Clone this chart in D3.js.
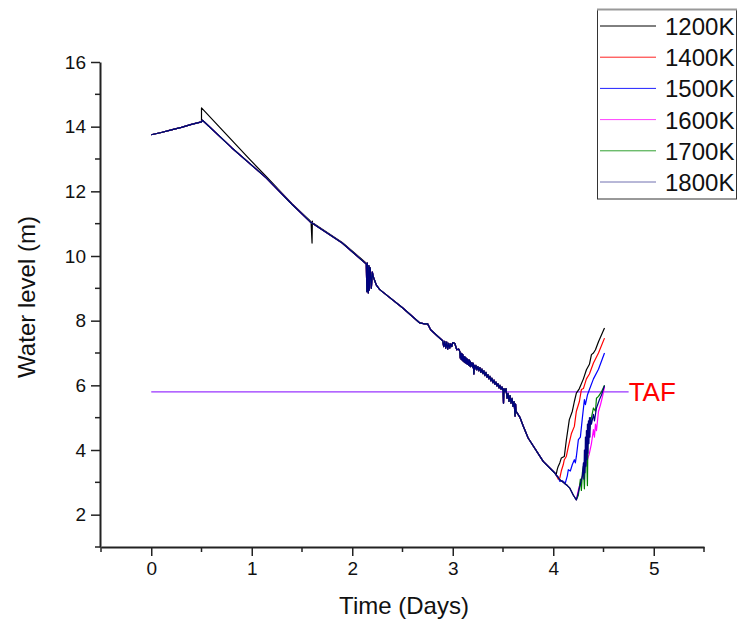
<!DOCTYPE html>
<html>
<head>
<meta charset="utf-8">
<script src="https://cdn.jsdelivr.net/npm/d3@7"></script>
<style>
  html, body { margin: 0; padding: 0; background: #fff; }
  svg { display: block; font-family: Arial, "Liberation Sans", sans-serif; }
</style>
</head>
<body>
<svg id="chart" width="740" height="626"></svg>
<script>
// ---------------- DATA ----------------
const seriesNames = ["1200K", "1400K", "1500K", "1600K", "1700K", "1800K"];
const xTicks = [0, 1, 2, 3, 4, 5];
const yTicks = [2, 4, 6, 8, 10, 12, 14, 16];
const tafLevel = 5.8;
const tafStart = 0;
const tafEnd = 4.75;
const tafLabel = "TAF";

// common (shared) water level history
const baseTime = [0, 0.1, 0.2, 0.3, 0.4, 0.5, 0.51, 0.8, 1.146, 1.4, 1.577, 1.9, 2.14,
  2.145, 2.15, 2.155, 2.16, 2.165, 2.17, 2.175, 2.18, 2.19, 2.2, 2.21, 2.24, 2.274, 2.5, 2.672, 2.72, 2.75, 2.78, 2.85, 2.9,
  2.91, 2.92, 2.93, 2.94, 2.95, 2.96, 2.97, 2.98, 2.99, 3.0, 3.02, 3.04, 3.06,
  3.07, 3.075, 3.08, 3.085, 3.09, 3.095, 3.1, 3.105, 3.11, 3.115, 3.12, 3.125, 3.13, 3.135, 3.14, 3.145, 3.15,
  3.16, 3.165, 3.17, 3.175, 3.18, 3.19, 3.2, 3.205, 3.21, 3.215, 3.22, 3.23, 3.24, 3.25, 3.26, 3.27, 3.28, 3.29,
  3.3, 3.31, 3.32, 3.33, 3.34, 3.35, 3.36, 3.37, 3.38, 3.39, 3.4, 3.41, 3.42, 3.43, 3.44, 3.45, 3.46, 3.47, 3.48,
  3.49, 3.5, 3.505, 3.51, 3.52, 3.53, 3.54, 3.55, 3.56, 3.57, 3.58, 3.59, 3.6, 3.61, 3.62, 3.625, 3.63, 3.64,
  3.67, 3.7, 3.75, 3.9, 4.015, 4.03, 4.05, 4.065, 4.1, 4.12, 4.14, 4.165, 4.2, 4.23];
const baseLevel = [13.75, 13.82, 13.9, 13.98, 14.07, 14.15, 14.2, 13.35, 12.41, 11.6, 11.07, 10.4, 9.75,
  8.9, 9.78, 8.95, 8.86, 9.7, 8.95, 9.65, 9.6, 9.0, 9.5, 9.35, 9.1, 8.96, 8.4, 7.93, 7.9, 7.9, 7.72, 7.52, 7.38,
  7.2, 7.36, 7.15, 7.34, 7.12, 7.3, 7.15, 7.28, 7.2, 7.32, 7.3, 7.1, 7.12,
  7.05, 6.85, 7.0, 6.8, 6.98, 6.78, 6.95, 6.75, 6.9, 6.72, 6.88, 6.7, 6.85, 6.68, 6.82, 6.65, 6.8,
  6.62, 6.78, 6.6, 6.74, 6.58, 6.7, 6.55, 6.68, 6.35, 6.62, 6.5, 6.62, 6.48, 6.58, 6.45, 6.55, 6.4, 6.5,
  6.36, 6.45, 6.3, 6.4, 6.25, 6.33, 6.2, 6.28, 6.14, 6.22, 6.08, 6.16, 6.03, 6.1, 5.98, 6.05, 5.92, 6.0, 5.88,
  5.95, 5.84, 5.45, 5.9, 5.8, 5.9, 5.6, 5.75, 5.5, 5.68, 5.45, 5.6, 5.35, 5.5, 5.05, 5.42, 5.2, 5.15,
  5.0, 4.75, 4.37, 3.65, 3.29, 3.22, 3.15, 3.08, 3.0, 2.95, 2.9, 2.82, 2.6, 2.46];

// 1200K departs early (overshoot after 0.5 d and spike near 1.6 d)
const early1200Time = [0.5, 0.98, 1.146, 1.4, 1.577, 1.59, 1.6, 1.603, 1.606, 1.62, 1.9, 2.14];
const early1200Level = [14.58, 12.99, 12.45, 11.62, 11.1, 11.05, 10.4, 11.08, 11.0, 11.0, 10.42, 9.78];

// recovery branches (reflooding)
const rise1200Time = [4.03, 4.04, 4.05, 4.065, 4.08, 4.11, 4.13, 4.16, 4.19, 4.21, 4.23, 4.26, 4.3, 4.33, 4.36, 4.38, 4.4, 4.42, 4.45, 4.51];
const rise1200Level = [3.25, 3.4, 3.5, 3.6, 3.75, 3.8, 4.3, 4.94, 5.2, 5.5, 5.76, 5.9, 6.2, 6.48, 6.65, 6.95, 7.0, 7.1, 7.35, 7.77];

const rise1400Time = [4.05, 4.065, 4.08, 4.1, 4.11, 4.13, 4.15, 4.18, 4.21, 4.23, 4.26, 4.28, 4.3, 4.33, 4.36, 4.4, 4.45, 4.51];
const rise1400Level = [3.1, 3.13, 3.35, 3.55, 3.7, 3.8, 4.1, 4.5, 4.73, 5.2, 5.5, 5.87, 5.9, 6.2, 6.35, 6.69, 7.0, 7.46];

const rise1500Time = [4.065, 4.09, 4.12, 4.14, 4.15, 4.17, 4.19, 4.21, 4.22, 4.23, 4.25, 4.27, 4.29, 4.31, 4.32, 4.34, 4.36, 4.4, 4.45, 4.51];
const rise1500Level = [3.03, 3.05, 2.98, 3.2, 3.39, 3.35, 3.55, 3.7, 3.6, 3.8, 4.32, 4.4, 5.0, 5.56, 5.4, 5.7, 5.87, 6.2, 6.5, 7.0];

const rise1600Time = [4.23, 4.25, 4.28, 4.3, 4.33, 4.36, 4.38, 4.4, 4.41, 4.42, 4.43, 4.45, 4.47, 4.49, 4.51];
const rise1600Level = [2.46, 2.77, 3.1, 3.3, 3.6, 3.9, 4.2, 4.63, 4.4, 4.8, 4.6, 5.19, 5.4, 5.65, 5.95];

const rise1700Time = [4.23, 4.25, 4.27, 4.28, 4.29, 4.3, 4.31, 4.32, 4.33, 4.34, 4.345, 4.36, 4.38, 4.4, 4.42, 4.43, 4.45, 4.48, 4.51];
const rise1700Level = [2.46, 2.6, 3.1, 2.75, 3.3, 3.5, 2.8, 3.8, 4.2, 2.9, 4.3, 4.6, 5.0, 5.3, 5.2, 5.6, 5.66, 5.8, 6.0];

const rise1800Time = [4.23, 4.26, 4.29, 4.3, 4.305, 4.31, 4.315, 4.32, 4.325, 4.33, 4.335, 4.34, 4.345, 4.35, 4.355, 4.36, 4.365, 4.37, 4.38, 4.4, 4.41, 4.43, 4.46, 4.48, 4.51];
const rise1800Level = [2.46, 2.82, 3.2, 3.6, 3.1, 4.0, 3.3, 4.4, 3.5, 4.6, 3.7, 4.8, 3.9, 4.9, 4.2, 5.0, 4.4, 5.0, 4.8, 5.1, 4.9, 5.3, 5.56, 5.7, 5.99];

const branchStart = [4.03, 4.05, 4.065, 4.23, 4.23, 4.23];

// ---------------- STYLE ----------------
const colors = ["#000000", "#ff0000", "#0000ff", "#ff00ff", "#008000", "#000080"];
const legendColors = ["#000000", "#ff2020", "#2020ff", "#ff40ff", "#30a030", "#7070b0"];

// ---------------- BUILD ----------------
const zip = (ts, ls) => ts.map((t, i) => ({ t: t, v: ls[i] }));
const base = zip(baseTime, baseLevel);
const rises = [
  zip(rise1200Time, rise1200Level), zip(rise1400Time, rise1400Level), zip(rise1500Time, rise1500Level),
  zip(rise1600Time, rise1600Level), zip(rise1700Time, rise1700Level), zip(rise1800Time, rise1800Level)
];
const series = seriesNames.map((name, i) => {
  let pts;
  if (i === 0) {
    pts = base.filter(d => d.t <= 0.5)
      .concat(zip(early1200Time, early1200Level))
      .concat(base.filter(d => d.t > 2.14 && d.t < branchStart[i]));
  } else {
    pts = base.filter(d => d.t < branchStart[i]);
  }
  return { name: name, color: colors[i], points: pts.concat(rises[i]) };
});

const svg = d3.select("#chart");
const x = d3.scaleLinear().domain([-0.5, 5.5]).range([101, 704]);
const y = d3.scaleLinear().domain([1, 16]).range([547, 62]);

// axes
const xAxisG = svg.append("g").attr("transform", "translate(0,547)");
xAxisG.call(d3.axisBottom(x).tickValues(xTicks).tickFormat(d3.format("d")).tickSize(9).tickSizeOuter(0).tickPadding(6));
const xMinor = d3.range(-0.5, 5.51, 1);
xAxisG.selectAll(".minor").data(xMinor).enter().append("line")
  .attr("x1", d => x(d)).attr("x2", d => x(d)).attr("y1", 0).attr("y2", 5)
  .attr("stroke", "#222").attr("stroke-width", 1.5);

const yAxisG = svg.append("g").attr("transform", "translate(100,0)");
yAxisG.call(d3.axisLeft(y).tickValues(yTicks).tickFormat(d3.format("d")).tickSize(9).tickSizeOuter(0).tickPadding(5));
const yMinor = d3.range(1, 15.1, 2);
yAxisG.selectAll(".minor").data(yMinor).enter().append("line")
  .attr("x1", 0).attr("x2", -5).attr("y1", d => y(d)).attr("y2", d => y(d))
  .attr("stroke", "#222").attr("stroke-width", 1.5);

[xAxisG, yAxisG].forEach(g => {
  g.select(".domain").attr("stroke", "#222").attr("stroke-width", 2);
  g.selectAll(".tick line").attr("stroke", "#222").attr("stroke-width", 1.5);
  g.selectAll(".tick text").attr("font-size", 19).attr("fill", "#111")
    .attr("font-family", "Arial, 'Liberation Sans', sans-serif");
});

// axis titles
svg.append("text").attr("x", 404).attr("y", 614).attr("text-anchor", "middle")
  .attr("font-size", 24).attr("fill", "#111").text("Time (Days)");
svg.append("text").attr("transform", "translate(35,297) rotate(-90)").attr("text-anchor", "middle")
  .attr("font-size", 24).attr("fill", "#111").text("Water level (m)");

// TAF line
svg.append("line").attr("x1", x(tafStart)).attr("x2", x(tafEnd))
  .attr("y1", y(tafLevel)).attr("y2", y(tafLevel))
  .attr("stroke", "#9933ff").attr("stroke-width", 1.2);
svg.append("text").attr("x", x(tafEnd) + 0).attr("y", y(tafLevel) + 9)
  .attr("font-size", 26).attr("fill", "#ff0000").text(tafLabel);

// series lines
const line = d3.line().x(d => x(d.t)).y(d => y(d.v));
svg.append("g").selectAll("path").data(series).enter().append("path")
  .attr("d", d => line(d.points))
  .attr("fill", "none")
  .attr("stroke", d => d.color)
  .attr("stroke-width", 1.2)
  .attr("stroke-linejoin", "round");

// legend
const lg = svg.append("g");
lg.append("rect").attr("x", 597.5).attr("y", 9.5).attr("width", 139).attr("height", 189.5)
  .attr("fill", "#fff").attr("stroke", "#333").attr("stroke-width", 1);
lg.append("line").attr("x1", 597).attr("x2", 737).attr("y1", 9.5).attr("y2", 9.5)
  .attr("stroke", "#999").attr("stroke-width", 2);
seriesNames.forEach((name, i) => {
  const ly = 26 + i * 31.2;
  lg.append("line").attr("x1", 600).attr("x2", 656).attr("y1", ly).attr("y2", ly)
    .attr("stroke", legendColors[i]).attr("stroke-width", 1);
  lg.append("text").attr("x", 665).attr("y", ly + 9).attr("font-size", 24).attr("fill", "#111").text(name);
});
</script>
</body>
</html>
